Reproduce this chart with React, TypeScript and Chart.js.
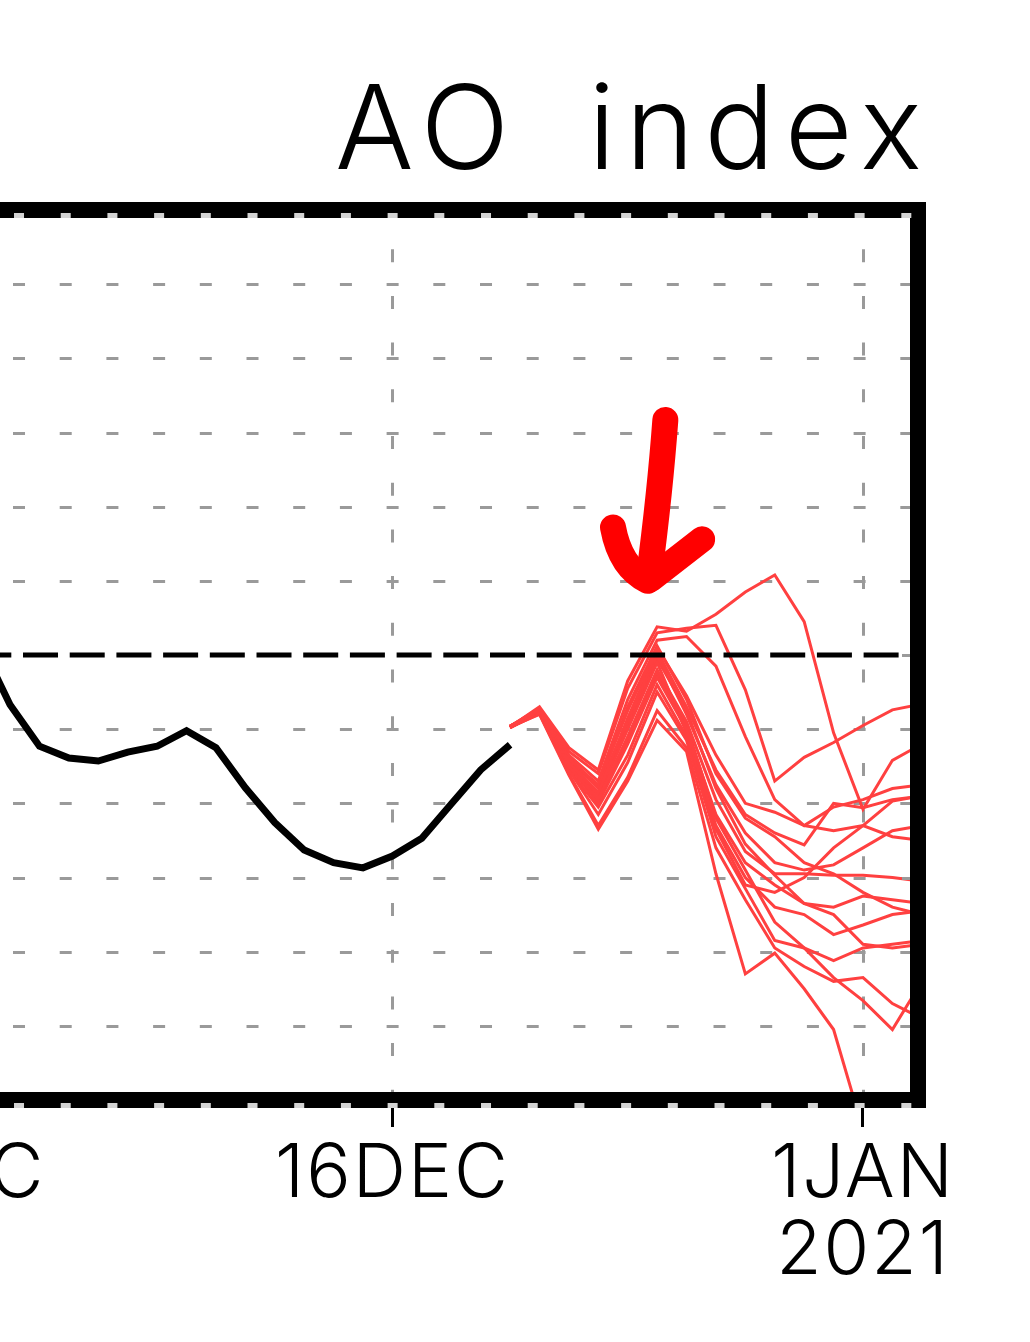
import React, { useEffect, useRef } from "react";
import { Chart, registerables } from "chart.js";

Chart.register(...registerables);

// ---------- data ----------
const TITLE = "AO index";

// x: day numbers, Dec 1 = 1 ... Dec 31 = 31, Jan 1 2021 = 32
const xTickDays = [1, 16, 32];
const xTickLabels: (string | string[])[] = ["1DEC", "16DEC", ["1JAN", "2021"]];
const xMin = 0;
const xMax = 33.87;

const yMin = -6;
const yMax = 6;
const yGridValues = [-5, -4, -3, -2, -1, 0, 1, 2, 3, 4, 5];

// observed AO (black)
const obsDays = [2, 3, 4, 5, 6, 7, 8, 9, 10, 11, 12, 13, 14, 15, 16, 17, 18, 19, 20];
const obsAO = [0.15, -0.67, -1.23, -1.39, -1.43, -1.31, -1.23, -1.02, -1.25, -1.79, -2.26, -2.63, -2.8, -2.87, -2.71, -2.47, -2.01, -1.55, -1.21];

// ensemble forecasts (red), days 20 .. 34
const fcstDays = [20, 21, 22, 23, 24, 25, 26, 27, 28, 29, 30, 31, 32, 33, 34];
const member01 = [-0.97, -0.7, -1.25, -1.55, -0.35, 0.38, 0.32, 0.55, 0.85, 1.08, 0.45, -1.05, -2.08, -1.42, -1.2];
const member02 = [-0.96, -0.72, -1.3, -1.6, -0.45, 0.3, 0.36, 0.4, -0.47, -1.7, -1.38, -1.18, -0.95, -0.74, -0.66];
const member03 = [-0.98, -0.73, -1.35, -1.7, -0.6, 0.2, 0.25, -0.15, -1.1, -1.95, -2.3, -2.05, -1.95, -1.8, -1.75];
const member04 = [-0.97, -0.74, -1.4, -1.75, -0.75, 0.1, -0.55, -1.35, -2.0, -2.12, -2.3, -2.37, -2.3, -2.45, -2.5];
const member05 = [-0.96, -0.75, -1.45, -1.85, -0.85, 0.05, -0.7, -1.55, -2.15, -2.4, -2.56, -2.0, -2.06, -1.95, -1.9];
const member06 = [-0.97, -0.73, -1.4, -1.8, -0.9, 0.0, -0.8, -1.75, -2.4, -2.8, -2.9, -2.83, -2.6, -2.37, -2.3];
const member07 = [-0.98, -0.76, -1.5, -1.95, -1.1, -0.2, -0.9, -1.95, -2.65, -2.95, -2.95, -2.97, -2.97, -3.0, -3.05];
const member08 = [-0.97, -0.77, -1.5, -2.0, -1.2, -0.3, -1.0, -2.15, -2.8, -3.1, -3.35, -3.4, -3.25, -3.3, -3.35];
const member09 = [-0.96, -0.75, -1.45, -1.9, -1.0, -0.1, -1.05, -2.3, -3.0, -3.4, -3.5, -3.77, -3.64, -3.5, -3.45];
const member10 = [-0.97, -0.78, -1.55, -2.15, -1.45, -0.5, -1.15, -2.45, -3.15, -3.85, -3.95, -4.12, -3.95, -3.9, -3.85];
const member11 = [-0.98, -0.79, -1.6, -2.3, -1.65, -0.75, -1.25, -2.6, -3.3, -3.95, -4.2, -4.4, -4.35, -4.7, -4.9];
const member12 = [-0.97, -0.8, -1.62, -2.35, -1.7, -0.88, -1.3, -2.95, -4.3, -4.02, -4.5, -5.05, -6.4, -6.9, -7.1];
const member13 = [-0.96, -0.76, -1.5, -1.95, -1.15, -0.25, -0.95, -2.2, -2.9, -3.6, -3.95, -4.35, -4.66, -5.05, -4.4];
const member14 = [-0.97, -0.74, -1.42, -1.88, -0.95, -0.05, -0.75, -1.8, -2.55, -2.97, -3.35, -3.5, -3.9, -3.95, -3.9];
const member15 = [-0.96, -0.72, -1.38, -1.78, -0.7, 0.12, -0.6, -1.6, -2.2, -2.45, -2.8, -2.95, -3.2, -3.4, -3.5];
const member16 = [-0.98, -0.77, -1.55, -2.05, -1.35, -0.4, -1.1, -2.35, -3.1, -3.2, -3.0, -2.6, -2.3, -1.97, -1.9];
const members = [member01, member02, member03, member04, member05, member06, member07, member08, member09, member10, member11, member12, member13, member14, member15, member16];

// hand-drawn arrow annotation, in data coordinates [day, value]
const arrowShaft = [[25.28, 3.17], [25.1, 2.2], [24.72, 1.05]];
const arrowLeftWing = [[23.5, 1.72], [23.75, 1.18], [24.68, 1.0]];
const arrowRightWing = [[26.53, 1.56], [24.78, 1.02]];

// ---------- styles ----------
const RED = "#ff4040";
const GRID_GRAY = "#9a9a9a";
const TITLE_SPACING = "10px";
const TITLE_WORD_SPACING = "26px";
const TICK_SPACING = "2px";
const PERIOD = 46.7;

const framePlugin = {
  id: "framePlugin",
  beforeDraw(chart: any) {
    chart.ctx.letterSpacing = TITLE_SPACING;
    chart.ctx.wordSpacing = TITLE_WORD_SPACING;
  },
  beforeDatasetsDraw(chart: any) {
    const ctx = chart.ctx;
    ctx.letterSpacing = "0px";
    ctx.wordSpacing = "0px";
    const { left, right, top, bottom } = chart.chartArea;
    const xs = chart.scales.x;
    const ys = chart.scales.y;
    ctx.save();
    ctx.strokeStyle = GRID_GRAY;
    ctx.lineWidth = 3;
    ctx.setLineDash([12, PERIOD - 12]);
    ctx.lineDashOffset = 2.2;
    for (const v of yGridValues) {
      if (v === 0) continue;
      const py = Math.round(ys.getPixelForValue(v)) + 0.5;
      ctx.beginPath();
      ctx.moveTo(left, py);
      ctx.lineTo(right, py);
      ctx.stroke();
    }
    ctx.setLineDash([13, PERIOD - 13]);
    ctx.lineDashOffset = 7.5;
    for (const d of xTickDays) {
      const px = Math.round(xs.getPixelForValue(d)) + 0.5;
      if (px < left || px > right) continue;
      ctx.beginPath();
      ctx.moveTo(px, top);
      ctx.lineTo(px, bottom);
      ctx.stroke();
    }
    ctx.restore();
  },
  afterDatasetsDraw(chart: any) {
    const ctx = chart.ctx;
    const { left, right, top, bottom } = chart.chartArea;
    const ys = chart.scales.y;
    ctx.save();
    // zero line
    ctx.strokeStyle = "#000";
    ctx.lineWidth = 5;
    ctx.setLineDash([35, PERIOD - 35]);
    ctx.lineDashOffset = 38.9;
    const py0 = ys.getPixelForValue(0);
    ctx.beginPath();
    ctx.moveTo(left, py0);
    ctx.lineTo(right, py0);
    ctx.stroke();
    ctx.setLineDash([]);
    // right-side inner ticks
    ctx.strokeStyle = GRID_GRAY;
    ctx.lineWidth = 3;
    for (const v of yGridValues) {
      const py = Math.round(ys.getPixelForValue(v)) + 0.5;
      ctx.beginPath();
      ctx.moveTo(right - 16, py);
      ctx.lineTo(right - 6, py);
      ctx.stroke();
    }
    // thick frame
    ctx.strokeStyle = "#000";
    ctx.lineWidth = 16;
    ctx.strokeRect(left, top, right - left, bottom - top);
    // notches along frame
    ctx.fillStyle = "#d4d4d4";
    for (let cx = left + 3.8; cx < right - 8; cx += PERIOD) {
      ctx.fillRect(cx - 5, top + 3, 10, 5);
      ctx.fillRect(cx - 5, bottom + 3, 10, 5);
    }
    ctx.restore();
    // tick labels (drawn next, z = 1) get a little letter spacing
    ctx.letterSpacing = TICK_SPACING;
  },
  afterDraw(chart: any) {
    const ctx = chart.ctx;
    ctx.letterSpacing = "0px";
    const xs = chart.scales.x;
    const ys = chart.scales.y;
    const P = (p: number[]) => [xs.getPixelForValue(p[0]), ys.getPixelForValue(p[1])];
    ctx.save();
    ctx.strokeStyle = "#ff0000";
    ctx.lineWidth = 26;
    ctx.lineCap = "round";
    ctx.lineJoin = "round";
    const s = arrowShaft.map(P);
    ctx.beginPath();
    ctx.moveTo(s[0][0], s[0][1]);
    ctx.quadraticCurveTo(s[1][0], s[1][1], s[2][0], s[2][1]);
    ctx.stroke();
    const l = arrowLeftWing.map(P);
    ctx.beginPath();
    ctx.moveTo(l[0][0], l[0][1]);
    ctx.quadraticCurveTo(l[1][0], l[1][1], l[2][0], l[2][1]);
    ctx.stroke();
    const r = arrowRightWing.map(P);
    ctx.beginPath();
    ctx.moveTo(r[0][0], r[0][1]);
    ctx.lineTo(r[1][0], r[1][1]);
    ctx.stroke();
    ctx.restore();
  },
};

const OFFSET_LEFT = 150;
const CANVAS_W = 1030 + OFFSET_LEFT;
const CANVAS_H = 1342;

export default function App() {
  const ref = useRef<HTMLCanvasElement | null>(null);

  useEffect(() => {
    if (!ref.current) return;
    const datasets: any[] = members.map((m, i) => ({
      label: "member" + (i + 1),
      data: fcstDays.map((d, j) => ({ x: d, y: m[j] })),
      borderColor: RED,
      borderWidth: 3,
      pointRadius: 0,
      tension: 0,
      fill: false,
    }));
    datasets.push({
      label: "observed",
      data: obsDays.map((d, j) => ({ x: d, y: obsAO[j] })),
      borderColor: "#000",
      borderWidth: 7,
      pointRadius: 0,
      tension: 0,
      fill: false,
    });

    const chart = new Chart(ref.current, {
      type: "line",
      data: { datasets },
      plugins: [framePlugin],
      options: {
        animation: false,
        responsive: false,
        devicePixelRatio: 1,
        events: [],
        layout: { padding: { left: 70.8, right: 98, top: 0, bottom: 0 } },
        plugins: {
          legend: { display: false },
          tooltip: { enabled: false },
          title: {
            display: true,
            text: TITLE,
            align: "end",
            color: "#000",
            font: { family: "Inter", size: 117, weight: "300", lineHeight: 1 },
            padding: { top: 75, bottom: 18 },
          },
        },
        scales: {
          x: {
            type: "linear",
            min: xMin,
            max: xMax,
            afterBuildTicks: (scale: any) => {
              scale.ticks = xTickDays.map((v) => ({ value: v }));
            },
            afterFit: (scale: any) => {
              scale.height = 242;
            },
            grid: {
              display: true,
              drawOnChartArea: false,
              drawTicks: true,
              tickLength: 27,
              tickWidth: 3,
              tickColor: "#000",
            },
            border: { display: false },
            ticks: {
              autoSkip: false,
              maxRotation: 0,
              minRotation: 0,
              padding: 9,
              z: 1,
              color: "#000",
              font: { family: "Inter", size: 74, weight: "300", lineHeight: 1.04 },
              callback: (value: any) => {
                const i = xTickDays.indexOf(Number(value));
                return i >= 0 ? (xTickLabels[i] as any) : "";
              },
            },
          },
          y: {
            type: "linear",
            display: false,
            min: yMin,
            max: yMax,
          },
          yRight: {
            type: "linear",
            position: "right",
            display: true,
            min: yMin,
            max: yMax,
            grid: { display: false },
            border: { display: false },
            ticks: { display: false },
            afterFit: (scale: any) => {
              scale.width = 14;
            },
          },
        },
      } as any,
    });
    return () => chart.destroy();
  }, []);

  return (
    <div style={{ position: "absolute", left: -OFFSET_LEFT, top: 0, width: CANVAS_W, height: CANVAS_H, overflow: "hidden" }}>
      <canvas ref={ref} width={CANVAS_W} height={CANVAS_H} style={{ display: "block" }} />
    </div>
  );
}
